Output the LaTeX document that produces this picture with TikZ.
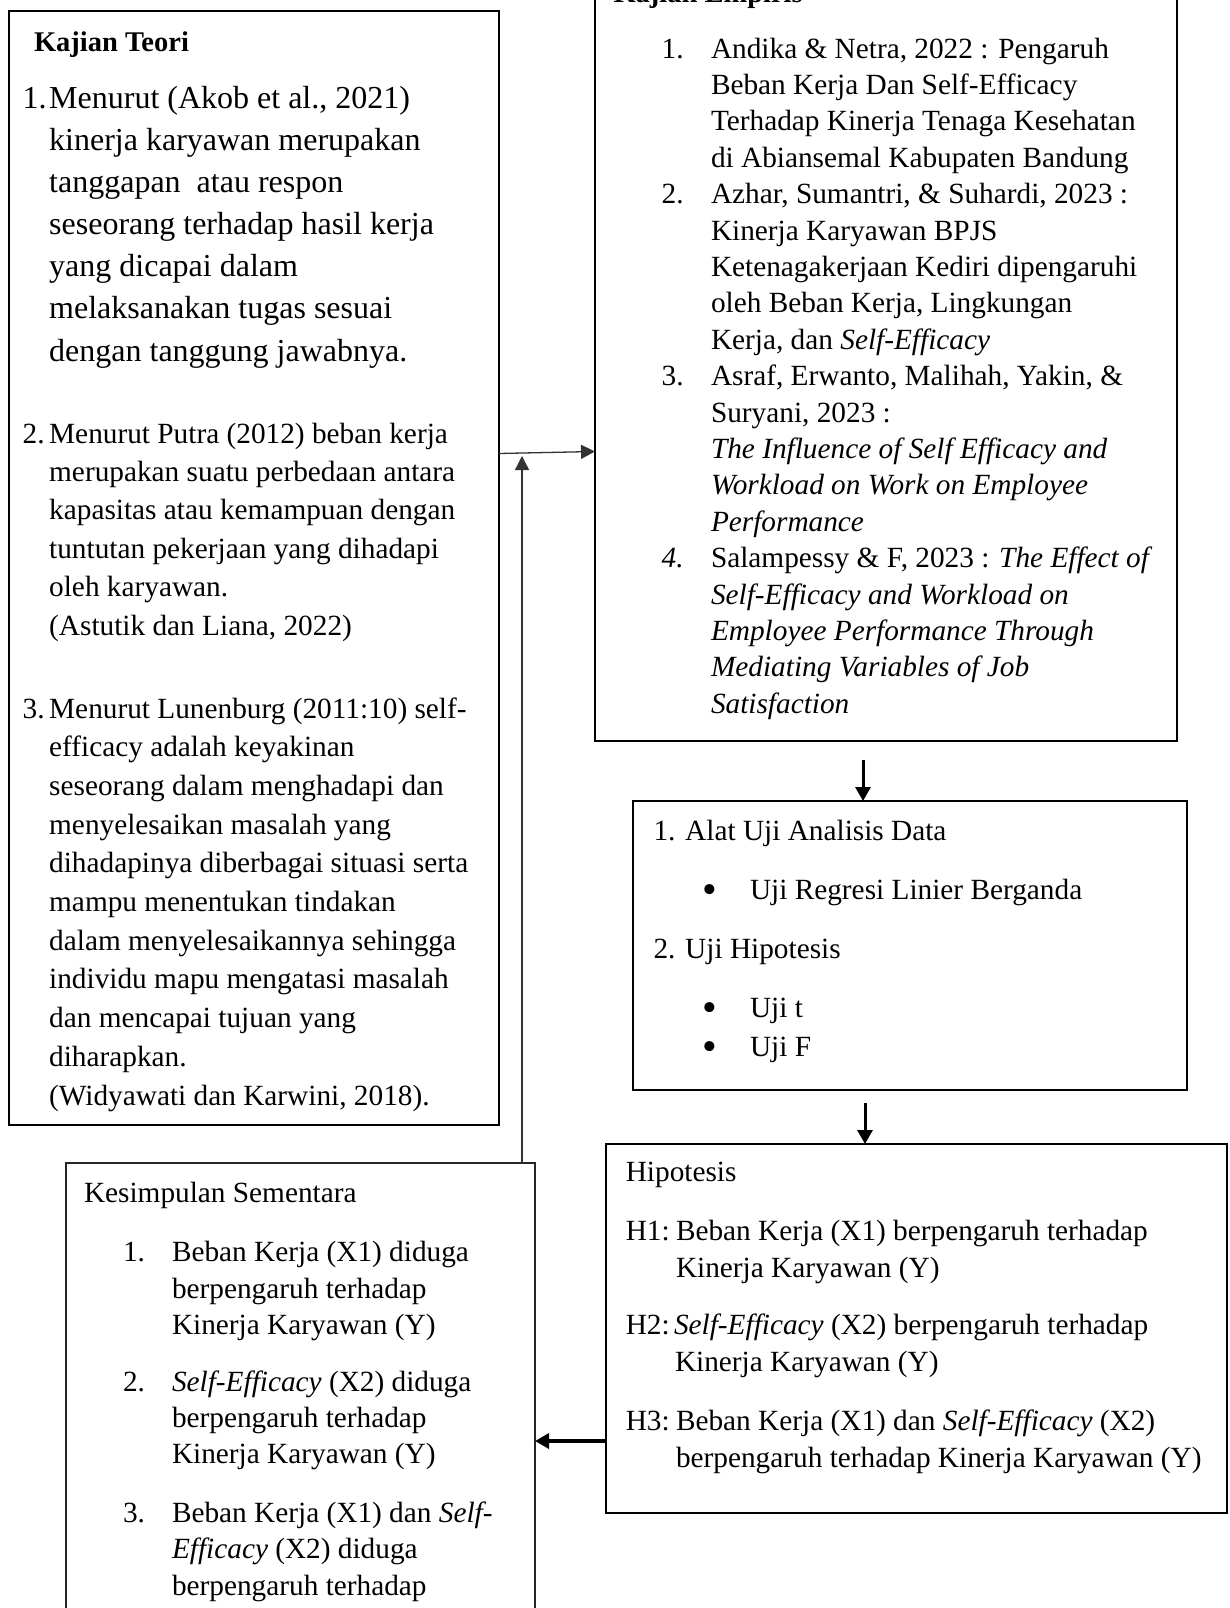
\documentclass[tikz,border=0pt]{standalone}
\usepackage{fontspec}
\setmainfont{Liberation Serif}
\usetikzlibrary{arrows.meta}
\newcommand\blk[3]{\parbox[t]{700pt}{\fontsize{#1}{#2}\selectfont #3}}
\begin{document}
\begin{tikzpicture}[x=1pt,y=-1pt,
  box/.style={draw=black, line width=2pt, rectangle, inner sep=0pt, outer sep=0pt, anchor=north west},
  tx/.style={anchor=base west, inner sep=0pt, outer sep=0pt, font=\fontsize{29.3}{36.4}\selectfont},
  bul/.style={anchor=base, inner sep=0pt, outer sep=0pt, font=\fontsize{42}{42}\selectfont},
  hd/.style={tx, font=\fontsize{28.5}{34}\selectfont\bfseries},
  arr/.style={line width=3pt, -{Triangle[length=14pt,width=15pt]}},
  thinarr/.style={line width=1.3pt, draw=black!80, -{Triangle[length=14pt,width=14pt]}}]
\useasboundingbox (0,0) rectangle (1230,1608);
\fill[white] (0,0) rectangle (1230,1608);
\clip (0,0) rectangle (1230,1608);

% boxes
\node[box, minimum width=490pt, minimum height=1114pt] (teori) at (9,11) {};
\node[box, minimum width=582pt, minimum height=801pt] (emp) at (595,-60) {};
\node[box, minimum width=554pt, minimum height=289pt] (alat) at (633,801) {};
\node[box, minimum width=621pt, minimum height=369pt] (hip) at (606,1144) {};
\node[box, line width=1.6pt, draw=black!85, minimum width=469pt, minimum height=537pt] (kes) at (66,1163) {};

% Kajian Teori
\node[hd] (tt) at (34,52) {Kajian Teori};
\node[tx] (t1n) at (22.6,108.5) {\blk{32}{42.1}{1.}};
\node[tx] (t1) at (49.2,108.5) {\blk{32}{42.1}{Menurut (Akob et al., 2021)\\ kinerja karyawan merupakan\\ tanggapan\ \ atau respon\\ seseorang terhadap hasil kerja\\ yang dicapai dalam\\ melaksanakan tugas sesuai\\ dengan tanggung jawabnya.}};
\node[tx] (t2n) at (22.6,443) {\blk{29.3}{38.4}{2.}};
\node[tx] (t2) at (49.2,443) {\blk{29.3}{38.4}{Menurut Putra (2012) beban kerja\\ merupakan suatu perbedaan antara\\ kapasitas atau kemampuan dengan\\ tuntutan pekerjaan yang dihadapi\\ oleh karyawan.\\ (Astutik dan Liana, 2022)}};
\node[tx] (t3n) at (22.6,718) {\blk{29.3}{38.7}{3.}};
\node[tx] (t3) at (49.2,718) {\blk{29.3}{38.7}{Menurut Lunenburg (2011:10) self-\\ efficacy adalah keyakinan\\ seseorang dalam menghadapi dan\\ menyelesaikan masalah yang\\ dihadapinya diberbagai situasi serta\\ mampu menentukan tindakan\\ dalam menyelesaikannya sehingga\\ individu mapu mengatasi masalah\\ dan mencapai tujuan yang\\ diharapkan.\\ (Widyawati dan Karwini, 2018).}};

% Kajian Empiris
\node[hd] (et) at (613.5,3) {Kajian Empiris};
\node[tx] (e1n) at (661.7,58.2) {1.};
\node[tx] (e2n) at (661.7,203.8) {2.};
\node[tx] (e3n) at (661.7,385.8) {3.};
\node[tx] (e4n) at (661.7,567.8) {\itshape 4.};
\node[tx] (e1) at (711,58.2) {\blk{29.3}{36.4}{Andika \& Netra, 2022 : Pengaruh\\ Beban Kerja Dan Self-Efficacy\\ Terhadap Kinerja Tenaga Kesehatan\\ di Abiansemal Kabupaten Bandung\\ Azhar, Sumantri, \& Suhardi, 2023 :\\ Kinerja Karyawan BPJS\\ Ketenagakerjaan Kediri dipengaruhi\\ oleh Beban Kerja, Lingkungan\\ Kerja, dan \textit{Self-Efficacy}\\ Asraf, Erwanto, Malihah, Yakin, \&\\ Suryani, 2023 :\\ \textit{The Influence of Self Efficacy and}\\ \textit{Workload on Work on Employee}\\ \textit{Performance}\\ Salampessy \& F, 2023 : \textit{The Effect of}\\ \textit{Self-Efficacy and Workload on}\\ \textit{Employee Performance Through}\\ \textit{Mediating Variables of Job}\\ \textit{Satisfaction}}};

% Alat Uji
\node[tx] (a1) at (653.5,840) {1. Alat Uji Analisis Data};
\node[bul] (a1b) at (710,903) {•};
\node[tx] (a1t) at (750,899.5) {Uji Regresi Linier Berganda};
\node[tx] (a2) at (653.5,958) {2. Uji Hipotesis};
\node[bul] (a2b) at (710,1021) {•};
\node[tx] (a2t) at (750,1017.5) {Uji t};
\node[bul] (a3b) at (710,1060) {•};
\node[tx] (a3t) at (750,1056.4) {Uji F};

% Hipotesis
\node[tx] (h0) at (625.8,1181.6) {Hipotesis};
\node[tx] (h1n) at (625.8,1240) {H1:};
\node[tx] (h1) at (676,1240) {\blk{29.3}{37}{Beban Kerja (X1) berpengaruh terhadap\\ Kinerja Karyawan (Y)}};
\node[tx] (h2n) at (625.8,1334.5) {H2:};
\node[tx] (h2) at (674,1334.5) {\blk{29.3}{37}{\textit{Self-Efficacy} (X2) berpengaruh terhadap\\ \hspace*{1pt}Kinerja Karyawan (Y)}};
\node[tx] (h3n) at (625.8,1430) {H3:};
\node[tx] (h3) at (676,1430) {\blk{29.3}{37}{Beban Kerja (X1) dan \textit{Self-Efficacy} (X2)\\ berpengaruh terhadap Kinerja Karyawan (Y)}};

% Kesimpulan
\node[tx] (k0) at (84,1202) {Kesimpulan Sementara};
\node[tx] (k1n) at (123,1261.6) {1.};
\node[tx] (k1) at (172,1261.6) {\blk{29.3}{36.4}{Beban Kerja (X1) diduga\\ berpengaruh terhadap\\ Kinerja Karyawan (Y)}};
\node[tx] (k2n) at (123,1391) {2.};
\node[tx] (k2) at (172,1391) {\blk{29.3}{36.4}{\textit{Self-Efficacy} (X2) diduga\\ berpengaruh terhadap\\ Kinerja Karyawan (Y)}};
\node[tx] (k3n) at (123,1522.2) {3.};
\node[tx] (k3) at (172,1522.2) {\blk{29.3}{36.4}{Beban Kerja (X1) dan \textit{Self-}\\ \textit{Efficacy} (X2) diduga\\ berpengaruh terhadap\\ Kinerja Karyawan (Y)}};

% connectors
\coordinate (yA) at (0,453.5);
\coordinate (yB) at (0,451.5);
\draw[thinarr] (teori.east |- yA) -- (emp.west |- yB);
\coordinate (vt) at (522,456);
\draw[thinarr] (kes.north -| vt) -- (vt);
\coordinate (ea) at (863,760);
\draw[arr] (ea) -- (ea |- alat.north);
\coordinate (ah) at (865,1103);
\draw[arr] (ah) -- (ah |- hip.north);
\coordinate (hk) at (0,1441);
\draw[arr, line width=4pt] (hip.west |- hk) -- (kes.east |- hk);
\end{tikzpicture}
\end{document}
